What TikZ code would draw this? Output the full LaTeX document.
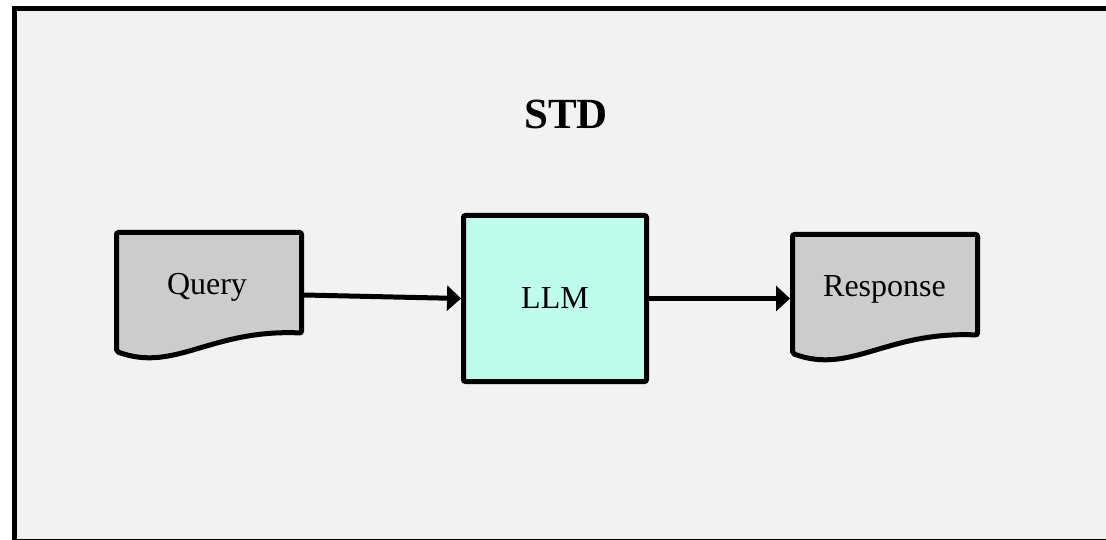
\documentclass[tikz,border=0pt]{standalone}
\usepackage{fontspec}
\setmainfont{Liberation Serif}
\usetikzlibrary{calc,arrows.meta}
\definecolor{bgc}{RGB}{242,242,242}
\definecolor{docc}{RGB}{204,204,204}
\definecolor{llmc}{RGB}{192,252,236}
\tikzset{
  docbox/.style={minimum width=185pt, minimum height=119pt, inner sep=0pt, outer sep=2.5pt},
  docshape/.style={draw=black, line width=5pt, rounded corners=2pt, fill=docc},
  lbl/.style={font=\fontsize{32}{37}\selectfont, inner sep=0pt},
  llmbox/.style={draw=black, line width=5pt, rounded corners=2pt, fill=llmc,
    minimum width=183pt, minimum height=166pt, inner sep=0pt,
    font=\fontsize{32}{37}\selectfont},
  arr/.style={line width=5pt, -{Triangle[length=14pt,width=25pt]}},
  titlestyle/.style={font=\bfseries\fontsize{43}{50}\selectfont, inner sep=0pt}
}
\newcommand{\docpath}[1]{%
  \begin{scope}[shift={(#1.center)}]
    \draw[docshape] (-92.5,-59.5) -- (92.5,-59.5) -- (92.5,41)
      .. controls (1,37) and (-34,81) .. (-92.5,59.5) -- cycle;
  \end{scope}}
\begin{document}
\begin{tikzpicture}[x=1pt,y=-1pt]
\useasboundingbox (0,0) rectangle (1106,540);
\clip (0,0) rectangle (1106,540);
\fill[white] (0,0) rectangle (1106,540);
\draw[line width=5pt, fill=bgc] (14.5,8.5) rectangle (1112,541);

\node[titlestyle] (title) at (566,114) {STD};

\node[docbox] (q) at (209,292) {};
\docpath{q}
\node[lbl] (qt) at (207,287) {Query};

\node[llmbox] (llm) at (555,298.5) {LLM};

\node[docbox] (r) at (885,294) {};
\docpath{r}
\node[lbl] (rt) at (884.5,289) {Response};

\draw[arr] ([yshift=-3pt]q.east) -- (llm.west);
\draw[arr] (llm.east) -- (llm.east -| r.west);
\end{tikzpicture}
\end{document}
